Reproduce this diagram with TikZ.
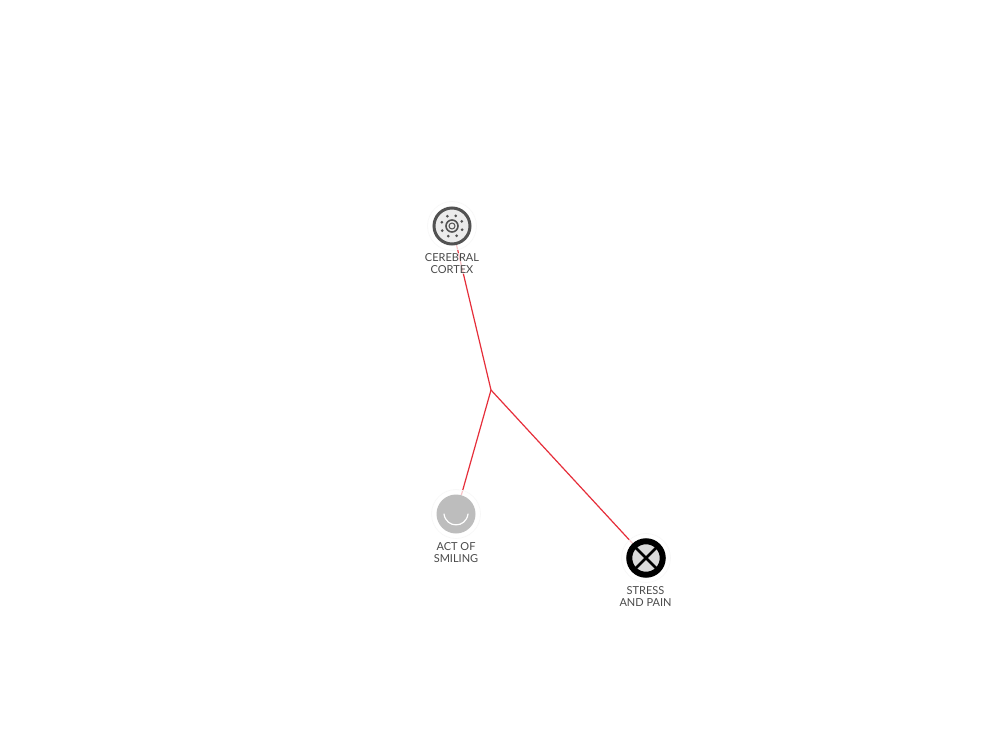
\documentclass[tikz,border=0pt]{standalone}
\usepackage{fontspec}
\setmainfont{Lato}
\pgfdeclarelayer{back}
\pgfsetlayers{back,main}
\definecolor{linkred}{HTML}{E62E3A}
\definecolor{labelgrey}{HTML}{4A4A4A}
\tikzset{
  x=1pt,y=-1pt,
  halo/.style={circle,inner sep=0,minimum size=49pt,fill=white,fill opacity=.72,draw=black!3,line width=.6pt},
  icon/.style={circle,inner sep=0,minimum size=39pt,outer sep=0},
  link/.style={draw=linkred,line width=1.2pt},
  lbl/.style={font=\fontsize{11}{11.2}\selectfont,text=labelgrey,align=center,inner sep=1pt,fill=white,fill opacity=.7,text opacity=1},
  dotmark/.style={fill=black!68,draw=none}
}
\begin{document}
\begin{tikzpicture}
\useasboundingbox (0,0) rectangle (984,738);
\begin{pgfonlayer}{back}
\fill[white] (0,0) rectangle (984,738);
\end{pgfonlayer}
\coordinate (hub) at (491,390);
% haloes
\node[halo] (cortexhalo) at (452,226) {};
\node[halo] (smilehalo) at (456,514) {};
\node[halo] (stresshalo) at (646,558) {};
% labels
\node[lbl] (cortexlabel) at (452,263.5) {CEREBRAL\\CORTEX};
\node[lbl] (smilelabel) at (456,552.5) {ACT OF\\SMILING};
\node[lbl] (stresslabel) at (645.5,596.5) {STRESS\\AND PAIN};
% cerebral cortex icon
\node[icon,draw=black!68,line width=3pt,fill=black!8,minimum size=36pt] (cortex) at (452,226) {};
\draw[black!68,line width=1.6pt] (cortex.center) circle (6);
\draw[black!68,line width=1pt] (cortex.center) circle (3);
\foreach \a in {20,65,110,155,200,245,290,335}
  \fill[dotmark] (cortex.center) ++({10.8*cos(\a)},{10.8*sin(\a)}) circle (1.5);
% smile icon
\node[icon,fill=black!26] (smile) at (456,514) {};
\draw[white,line width=1.2pt,line cap=round] ([shift={(-12,0)}]smile.center) .. controls ([shift={(-10,14.5)}]smile.center) and ([shift={(10,14.5)}]smile.center) .. ([shift={(12,0)}]smile.center);
% stress icon
\node[icon,draw=black,line width=6pt,fill=black!14,minimum size=33.5pt] (stress) at (646,558) {};
\draw[black,line width=2.5pt] (stress.45) -- (stress.225);
\draw[black,line width=2.5pt] (stress.135) -- (stress.315);
% connectors
\begin{pgfonlayer}{back}
\draw[link] (hub) -- (cortex);
\draw[link] (hub) -- (smile);
\draw[link] (hub) -- (stress);
\end{pgfonlayer}
\end{tikzpicture}
\end{document}
